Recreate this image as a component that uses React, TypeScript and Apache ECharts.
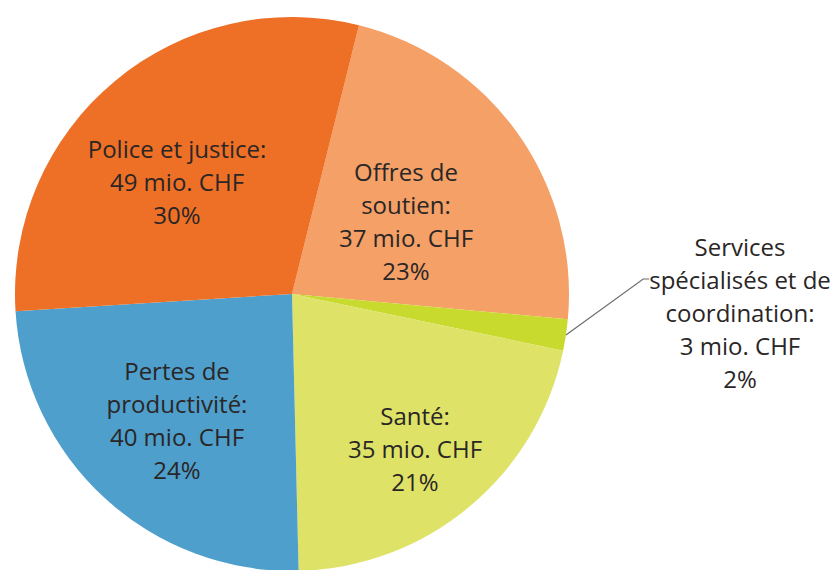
import React, { useEffect, useRef } from "react";
import * as echarts from "echarts";

// Data (clockwise from the top)
const categories = [
  "Offres de\nsoutien:",
  "Services\nspécialisés et de\ncoordination:",
  "Santé:",
  "Pertes de\nproductivité:",
  "Police et justice:",
];
const valuesMio = [37, 3, 35, 40, 49];
const colors = ["#F4A066", "#C9DA2E", "#DEE266", "#4E9FCC", "#EE7027"];

// Label layout (pixel centres of each label block)
const labelCenters: [number, number][] = [
  [406, 221],
  [740, 312],
  [415, 448],
  [177, 420],
  [177, 181],
];

export default function App() {
  const ref = useRef<HTMLDivElement>(null);
  useEffect(() => {
    if (!ref.current) return;
    const chart = echarts.init(ref.current, undefined, { renderer: "svg" });
    const FONT = 24;
    const LH = 33;
    chart.setOption({
      animation: false,
      backgroundColor: "#ffffff",
      series: [
        {
          type: "pie",
          center: [292, 294],
          radius: 277,
          startAngle: 76,
          clockwise: true,
          percentPrecision: 0,
          avoidLabelOverlap: false,
          itemStyle: { borderWidth: 0 },
          label: {
            show: true,
            position: "inside",
            formatter: (p: any) => `${p.name}\n${p.value} mio. CHF\n${p.percent}%`,
            fontFamily: "Open Sans",
            fontSize: FONT,
            lineHeight: LH,
            color: "#2a2626",
            align: "center",
          },
          labelLine: { show: false },
          labelLayout: (params: any) => {
            const i = params.dataIndex;
            const [cx, cy] = labelCenters[i];
            const res: any = { x: cx, y: cy, align: "center", verticalAlign: "middle" };
            if (i === 1 && params.labelLinePoints) {
              const start = params.labelLinePoints[0];
              const r = params.labelRect;
              const w = r.width;
              const h = r.height;
              const left = cx - w / 2;
              const top = cy - h / 2;
              const yLine = top + LH * 1.5;
              res.labelLinePoints = [start, [left - 6, yLine], [left, yLine]];
            }
            return res;
          },
          data: categories.map((name, i) => {
            const item: any = {
              name,
              value: valuesMio[i],
              itemStyle: { color: colors[i] },
            };
            if (i === 1) {
              item.label = { position: "outside" };
              item.labelLine = {
                show: true,
                length: 10,
                length2: 10,
                lineStyle: { color: "#6b6b6b", width: 1.2 },
              };
            }
            return item;
          }),
        },
      ],
    });
    return () => chart.dispose();
  }, []);
  return (
    <div
      ref={ref}
      style={{ position: "fixed", left: 0, top: 0, width: 838, height: 570 }}
    />
  );
}
